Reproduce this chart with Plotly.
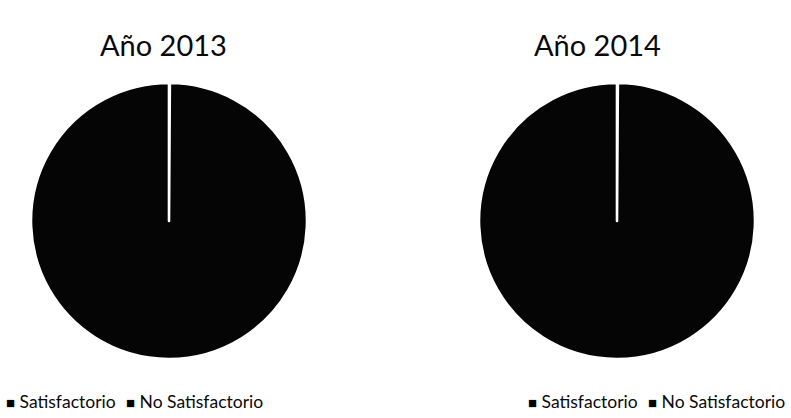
import plotly.graph_objects as go

categories = ["Satisfactorio", "No Satisfactorio"]
years = ["Año 2013", "Año 2014"]
values_2013 = [0.1, 99.9]
values_2014 = [0.1, 99.9]

slice_colors = ["#000000", "#050505"]
font_family = "Lato, 'Open Sans', sans-serif"
W, H = 791, 418

fig = go.Figure()

domains = [
    dict(x=[31 / W, 307 / W], y=[1 - 359 / H, 1 - 83 / H]),
    dict(x=[479 / W, 755 / W], y=[1 - 359 / H, 1 - 83 / H]),
]

for vals, dom in zip([values_2013, values_2014], domains):
    fig.add_trace(go.Pie(
        labels=categories,
        values=vals,
        domain=dom,
        sort=False,
        direction="clockwise",
        rotation=0,
        textinfo="none",
        hoverinfo="label+percent",
        marker=dict(colors=slice_colors, line=dict(color="white", width=2.6)),
        showlegend=False,
    ))

# Year titles above each pie
title_x = [163 / W, 597 / W]
for title, tx in zip(years, title_x):
    fig.add_annotation(
        text=title, x=tx, y=1 - 45 / H, xref="paper", yref="paper",
        xanchor="center", yanchor="middle", showarrow=False,
        font=dict(family=font_family, size=29, color="#0a0a0a"),
    )

# Legend rows beneath each pie
legend_starts = [4 / W, 526 / W]
entry_offsets = [0, 120 / W]
for x0 in legend_starts:
    for cat, color, off in zip(categories, slice_colors, entry_offsets):
        fig.add_annotation(
            text=f"<span style='font-size:15px;color:{color}'>■</span> {cat}",
            x=x0 + off, y=1 - 401 / H, xref="paper", yref="paper",
            xanchor="left", yanchor="middle", showarrow=False,
            font=dict(family=font_family, size=17.5, color="#0a0a0a"),
        )

fig.update_layout(
    width=W,
    height=H,
    margin=dict(l=0, r=0, t=0, b=0),
    paper_bgcolor="white",
    plot_bgcolor="white",
)

fig.write_html("out.html")
